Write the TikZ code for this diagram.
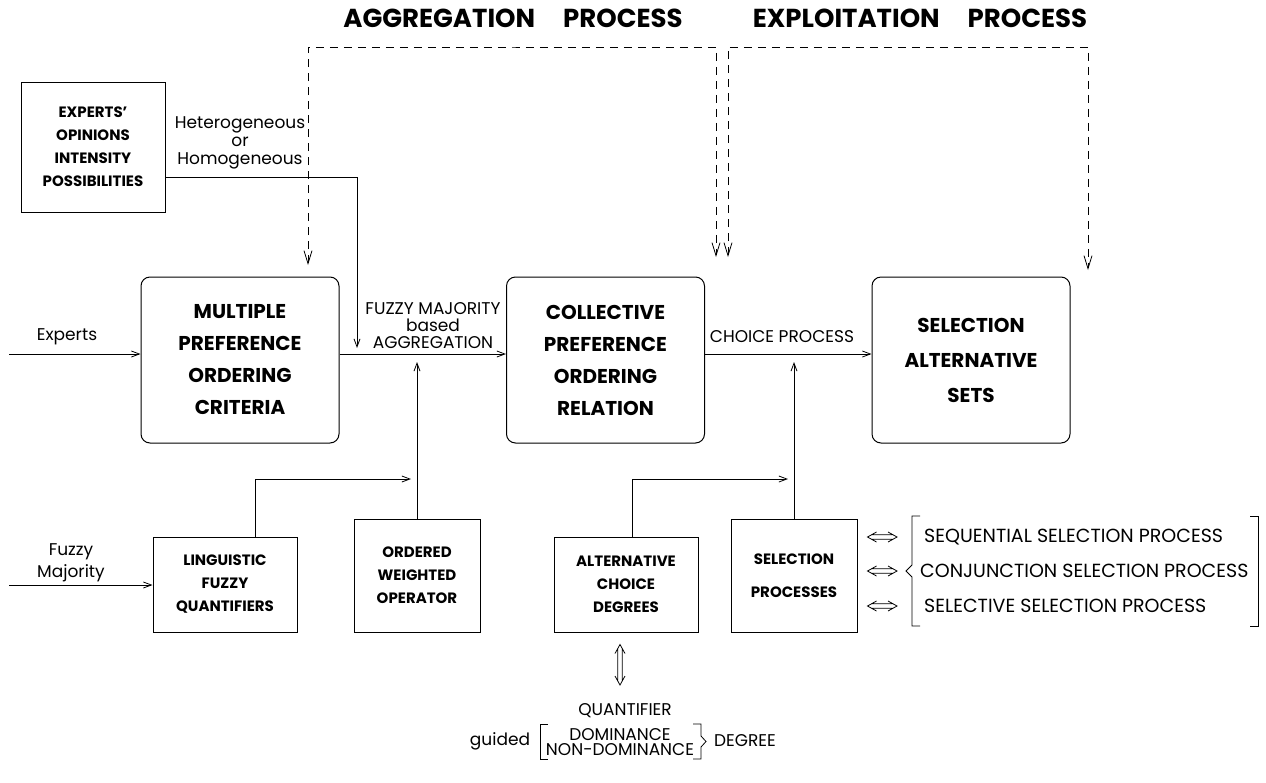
\documentclass[tikz,border=0pt]{standalone}
\usepackage{fontspec}
\setmainfont{Poppins}
\usetikzlibrary{arrows.meta, positioning, calc}

\begin{document}
\begin{tikzpicture}[
  x=1pt, y=-1pt,
  caja/.style={
    draw, line width=1pt, rounded corners=9pt,
    minimum width=198pt, minimum height=166pt,
    align=center, font=\fontsize{20}{32}\selectfont\bfseries
  },
  cajita/.style={
    draw, line width=1pt,
    minimum width=144pt, minimum height=95pt,
    align=center, font=\fontsize{15}{23}\selectfont\bfseries
  },
  flecha/.style={-{Straight Barb[length=8pt, width=6pt]}, line width=0.8pt},
  trazo/.style={{Straight Barb[length=13pt, width=8pt]}-{Straight Barb[length=13pt, width=8pt]},
    line width=0.8pt, dash pattern=on 8pt off 6pt},
  linea/.style={line width=0.8pt},
  % flecha doble <=> horizontal y vertical
  hdoble/.style={linea, to path={
    ($(\tikztostart)+(9,-5)$) -- (\tikztostart) -- ($(\tikztostart)+(9,5)$)
    ($(\tikztostart)+(4.5,-2.2)$) -- ($(\tikztotarget)+(-4.5,-2.2)$)
    ($(\tikztostart)+(4.5,2.2)$) -- ($(\tikztotarget)+(-4.5,2.2)$)
    ($(\tikztotarget)+(-9,-5)$) -- (\tikztotarget) -- ($(\tikztotarget)+(-9,5)$)}},
  vdoble/.style={linea, to path={
    ($(\tikztostart)+(-5,9)$) -- (\tikztostart) -- ($(\tikztostart)+(5,9)$)
    ($(\tikztostart)+(-2.2,4.5)$) -- ($(\tikztotarget)+(-2.2,-4.5)$)
    ($(\tikztostart)+(2.2,4.5)$) -- ($(\tikztotarget)+(2.2,-4.5)$)
    ($(\tikztotarget)+(-5,-9)$) -- (\tikztotarget) -- ($(\tikztotarget)+(5,-9)$)}},
  lbl/.style={font=\fontsize{17}{18}\selectfont, inner sep=1pt, align=center},
  lista/.style={lbl, anchor=west, font=\fontsize{19}{20}\selectfont},
  titulo/.style={font=\fontsize{26}{28}\selectfont\bfseries}
]
\useasboundingbox (0,0) rectangle (1266,782);

%% ─────────────────────────────────────────────────────────
%% Coordenadas en pixeles: x a la derecha, y hacia abajo
%% ─────────────────────────────────────────────────────────

%% TITULOS
\node[titulo] (TAG) at (513,18) {AGGREGATION\hspace{28pt}PROCESS};
\node[titulo] (TEX) at (920,18) {EXPLOITATION\hspace{28pt}PROCESS};

%% CAJAS GRANDES
\node[caja] (MUL) at (240,360)   {MULTIPLE\\PREFERENCE\\ORDERING\\CRITERIA};
\node[caja] (COL) at (605.5,360) {COLLECTIVE\\PREFERENCE\\ORDERING\\RELATION};
\node[caja, font=\fontsize{20}{35}\selectfont\bfseries]
            (SEL) at (971,360)   {SELECTION\\ALTERNATIVE\\SETS};

%% CAJAS PEQUENAS
\node[cajita, minimum height=130pt] (EXP) at (93,147)
  {EXPERTS'\\OPINIONS\\INTENSITY\\POSSIBILITIES};
\node[cajita] (LIN) at (225,584.5) {LINGUISTIC\\FUZZY\\QUANTIFIERS};
\node[cajita, minimum width=126pt, minimum height=113pt]
              (OWA) at (417,575.5) {ORDERED\\WEIGHTED\\OPERATOR};
\node[cajita] (ALT) at (626,584.5) {ALTERNATIVE\\CHOICE\\DEGREES};
\node[cajita, minimum width=126pt, minimum height=113pt,
      font=\fontsize{15}{33}\selectfont\bfseries]
              (SPR) at (794,575.5) {SELECTION\\PROCESSES};

%% ETIQUETAS
\node[lbl] (EXl) at (67,337)  {Experts};
\node[lbl] (HET) at (240,143) {Heterogeneous\\or\\Homogeneous};
\node[lbl, font=\fontsize{17}{17}\selectfont]
           (FMA) at (433,326) {FUZZY MAJORITY\\based\\AGGREGATION};
\node[lbl] (CHO) at (782,337) {CHOICE PROCESS};
\node[lbl, font=\fontsize{17}{22}\selectfont]
           (FMJ) at (71,563)  {Fuzzy\\Majority};

\node[lista] (L1) at (923,537) {SEQUENTIAL SELECTION PROCESS};
\node[lista] (L2) at (919,571) {CONJUNCTION SELECTION PROCESS};
\node[lista] (L3) at (923,606) {SELECTIVE SELECTION PROCESS};

\node[lbl] (QUA) at (625,711) {QUANTIFIER};
\node[lbl] (GUI) at (500,741) {guided};
\node[lbl, font=\fontsize{17}{15}\selectfont]
           (DOM) at (620,742) {DOMINANCE\\NON-DOMINANCE};
\node[lbl] (DEG) at (745,741) {DEGREE};

%% PUNTOS LIBRES
\coordinate (eExp) at (9,354);
\coordinate (eFM)  at (9,585);
\coordinate (bHet) at (357,348);
\coordinate (sOWA) at (417,362);
\coordinate (kLIN) at (411,479);
\coordinate (sSPR) at (794,362);
\coordinate (kALT) at (788,479);
\coordinate (qTop) at (620,685);

%% FLUJO PRINCIPAL
\draw[flecha] (eExp) -- (eExp -| MUL.west);
\draw[flecha] (MUL.east |- eExp) -- (COL.west |- eExp);
\draw[flecha] (COL.east |- eExp) -- (SEL.west |- eExp);
\draw[flecha] (eFM) -- (eFM -| LIN.west);

% opiniones hacia la agregacion
\draw[flecha] ([yshift=-30pt]EXP.east) -| (bHet);

% cuantificadores y operador
\draw[flecha] (OWA.north) -- (sOWA);
\draw[flecha] ([xshift=30pt]LIN.north) |- (kLIN);

% grados y procesos de seleccion
\draw[flecha] (SPR.north) -- (sSPR);
\draw[flecha] ([xshift=6pt]ALT.north) |- (kALT);

%% PROCESOS (discontinuas)
\coordinate (aL) at (308,265);
\coordinate (aT) at (512,47);
\coordinate (aR) at (716,257);
\draw[trazo] (aL) |- (aT) -| (aR);

\coordinate (xL) at (728,257);
\coordinate (xT) at (908,47);
\coordinate (xR) at (1088,270);
\draw[trazo] (xL) |- (xT) -| (xR);

%% FLECHAS DOBLES
\draw[vdoble] ($(ALT.south)+(-6,12)$) to (qTop);
\draw[hdoble] ($(SPR.east |- L1.west)+(10,0)$) to ($(L1.west)+(-26,0)$);
\draw[hdoble] ($(SPR.east |- L2.west)+(10,0)$) to ($(L2.west)+(-22,0)$);
\draw[hdoble] ($(SPR.east |- L3.west)+(10,0)$) to ($(L3.west)+(-26,0)$);

%% CORCHETES
\draw[linea] (920,516) -- (912,516) -- (912,565) -- (906,571)
  -- (912,577) -- (912,626) -- (920,626);
\draw[linea] (1250,516) -- (1258,516) -- (1258,626) -- (1250,626);
\draw[linea] (548,724) -- (540,724) -- (540,759) -- (548,759);
\draw[linea] (693,724) -- (701,724) -- (701,736) -- (706,741.5)
  -- (701,747) -- (701,759) -- (693,759);

\end{tikzpicture}
\end{document}
